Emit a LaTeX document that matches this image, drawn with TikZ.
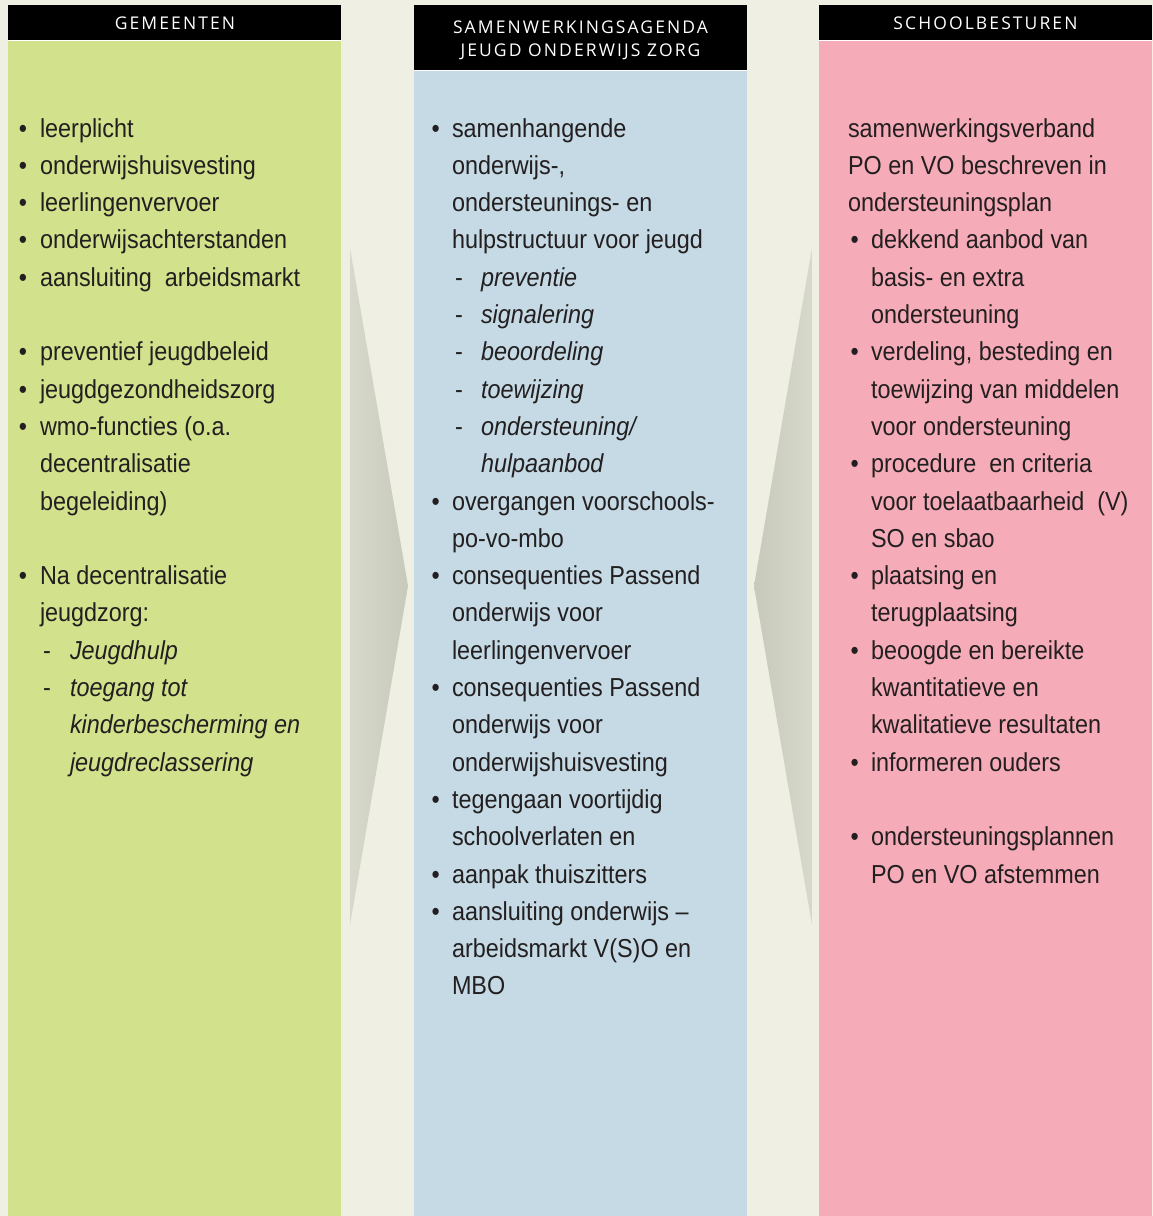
\documentclass[tikz,border=0pt]{standalone}
\usepackage{fontspec}
\setmainfont[FakeStretch=0.9]{Liberation Sans}
\newfontfamily\hdrfont[LetterSpace=12]{Open Sans}
\definecolor{bgc}{HTML}{EFEFE3}
\definecolor{greenc}{HTML}{D2E18B}
\definecolor{bluec}{HTML}{C5DAE5}
\definecolor{pinkc}{HTML}{F5ACB8}
\definecolor{arrlight}{HTML}{D7DACB}
\definecolor{arrdark}{HTML}{C7C9BA}
\definecolor{inkc}{HTML}{231F20}
\tikzset{
  txt/.style={anchor=base west, inner sep=0pt, outer sep=0pt, font=\fontsize{26}{31}\selectfont, text=inkc},
  hdr/.style={anchor=base, inner sep=0pt, text=white, font=\hdrfont\fontsize{17.5}{23}\selectfont, align=center},
}
\newcommand\txtline[4]{\node[txt] (#1) at (#2,{137+37.3*#3}) {#4};}
\newcommand\mybul[3]{\node[txt] (#1) at (#2,{137+37.3*#3}) {\textbullet};}
\newcommand\mydash[3]{\node[txt] (#1) at (#2,{137+37.3*#3}) {-};}
\begin{document}
\begin{tikzpicture}[x=1pt,y=-1pt]
\useasboundingbox (0,0) rectangle (1153,1216);
\fill[bgc] (0,0) rectangle (1153,1216);
% columns
\fill[black] (8,5) rectangle (341,40);
\fill[white] (8,40) rectangle (341,41);
\fill[greenc] (8,41) rectangle (341,1216);
\fill[black] (414,5) rectangle (747,70);
\fill[white] (414,70) rectangle (747,71);
\fill[bluec] (414,71) rectangle (747,1216);
\fill[black] (819,5) rectangle (1152,40);
\fill[white] (819,40) rectangle (1152,41);
\fill[pinkc] (819,41) rectangle (1152,1216);
% arrows
\shade[left color=arrlight, right color=arrdark] (350,248) -- (408,586) -- (350,925) -- cycle;
\shade[left color=arrdark, right color=arrlight] (812,248) -- (754,586) -- (812,925) -- cycle;
% headers
\node[hdr] (h1) at (175,29.5) {GEMEENTEN};
\node[hdr] (h2a) at (580.5,33.5) {SAMENWERKINGSAGENDA};
\node[hdr] (h2b) at (580.5,56.5) {JEUGD ONDERWIJS ZORG};
\node[hdr] (h3) at (985.5,29.5) {SCHOOLBESTUREN};
% left column
\mybul{lb0}{19}{0}\txtline{l0}{40}{0}{leerplicht}
\mybul{lb1}{19}{1}\txtline{l1}{40}{1}{onderwijshuisvesting}
\mybul{lb2}{19}{2}\txtline{l2}{40}{2}{leerlingenvervoer}
\mybul{lb3}{19}{3}\txtline{l3}{40}{3}{onderwijsachterstanden}
\mybul{lb4}{19}{4}\txtline{l4}{40}{4}{aansluiting\ \ arbeidsmarkt}
\mybul{lb6}{19}{6}\txtline{l6}{40}{6}{preventief jeugdbeleid}
\mybul{lb7}{19}{7}\txtline{l7}{40}{7}{jeugdgezondheidszorg}
\mybul{lb8}{19}{8}\txtline{l8}{40}{8}{wmo-functies (o.a.}
\txtline{l9}{40}{9}{decentralisatie}
\txtline{l10}{40}{10}{begeleiding)}
\mybul{lb12}{19}{12}\txtline{l12}{40}{12}{Na decentralisatie}
\txtline{l13}{40}{13}{jeugdzorg:}
\mydash{ld14}{43}{14}\txtline{l14}{70}{14}{\itshape Jeugdhulp}
\mydash{ld15}{43}{15}\txtline{l15}{70}{15}{\itshape toegang tot}
\txtline{l16}{70}{16}{\itshape kinderbescherming en}
\txtline{l17}{70}{17}{\itshape jeugdreclassering}
% middle column
\mybul{mb0}{431.5}{0}\txtline{m0}{452}{0}{samenhangende}
\txtline{m1}{452}{1}{onderwijs-,}
\txtline{m2}{452}{2}{ondersteunings- en}
\txtline{m3}{452}{3}{hulpstructuur voor jeugd}
\mydash{md4}{455}{4}\txtline{m4}{481}{4}{\itshape preventie}
\mydash{md5}{455}{5}\txtline{m5}{481}{5}{\itshape signalering}
\mydash{md6}{455}{6}\txtline{m6}{481}{6}{\itshape beoordeling}
\mydash{md7}{455}{7}\txtline{m7}{481}{7}{\itshape toewijzing}
\mydash{md8}{455}{8}\txtline{m8}{481}{8}{\itshape ondersteuning/}
\txtline{m9}{481}{9}{\itshape hulpaanbod}
\mybul{mb10}{431.5}{10}\txtline{m10}{452}{10}{overgangen voorschools-}
\txtline{m11}{452}{11}{po-vo-mbo}
\mybul{mb12}{431.5}{12}\txtline{m12}{452}{12}{consequenties Passend}
\txtline{m13}{452}{13}{onderwijs voor}
\txtline{m14}{452}{14}{leerlingenvervoer}
\mybul{mb15}{431.5}{15}\txtline{m15}{452}{15}{consequenties Passend}
\txtline{m16}{452}{16}{onderwijs voor}
\txtline{m17}{452}{17}{onderwijshuisvesting}
\mybul{mb18}{431.5}{18}\txtline{m18}{452}{18}{tegengaan voortijdig}
\txtline{m19}{452}{19}{schoolverlaten en}
\mybul{mb20}{431.5}{20}\txtline{m20}{452}{20}{aanpak thuiszitters}
\mybul{mb21}{431.5}{21}\txtline{m21}{452}{21}{aansluiting onderwijs –}
\txtline{m22}{452}{22}{arbeidsmarkt V(S)O en}
\txtline{m23}{452}{23}{MBO}
% right column
\txtline{r0}{848}{0}{samenwerkingsverband}
\txtline{r1}{848}{1}{PO en VO beschreven in}
\txtline{r2}{848}{2}{ondersteuningsplan}
\mybul{rb3}{850.5}{3}\txtline{r3}{871}{3}{dekkend aanbod van}
\txtline{r4}{871}{4}{basis- en extra}
\txtline{r5}{871}{5}{ondersteuning}
\mybul{rb6}{850.5}{6}\txtline{r6}{871}{6}{verdeling, besteding en}
\txtline{r7}{871}{7}{toewijzing van middelen}
\txtline{r8}{871}{8}{voor ondersteuning}
\mybul{rb9}{850.5}{9}\txtline{r9}{871}{9}{procedure\ \ en criteria}
\txtline{r10}{871}{10}{voor toelaatbaarheid\ \ (V)}
\txtline{r11}{871}{11}{SO en sbao}
\mybul{rb12}{850.5}{12}\txtline{r12}{871}{12}{plaatsing en}
\txtline{r13}{871}{13}{terugplaatsing}
\mybul{rb14}{850.5}{14}\txtline{r14}{871}{14}{beoogde en bereikte}
\txtline{r15}{871}{15}{kwantitatieve en}
\txtline{r16}{871}{16}{kwalitatieve resultaten}
\mybul{rb17}{850.5}{17}\txtline{r17}{871}{17}{informeren ouders}
\mybul{rb19}{850.5}{19}\txtline{r19}{871}{19}{ondersteuningsplannen}
\txtline{r20}{871}{20}{PO en VO afstemmen}
\end{tikzpicture}
\end{document}
